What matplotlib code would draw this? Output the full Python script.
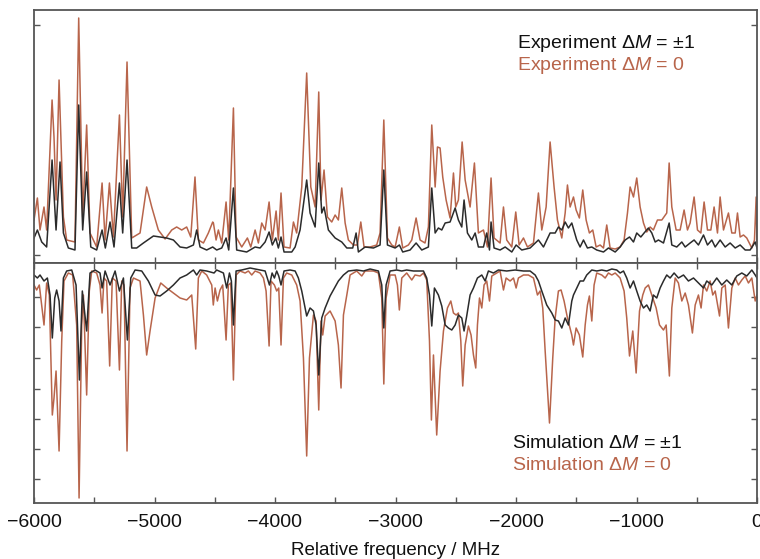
import matplotlib
matplotlib.use("Agg")
import matplotlib.pyplot as plt

plt.rcParams['font.family'] = ['Liberation Sans', 'DejaVu Sans']
plt.rcParams['mathtext.fontset'] = 'custom'
plt.rcParams['mathtext.rm'] = 'Liberation Sans'
plt.rcParams['mathtext.it'] = 'Liberation Sans:italic'

# ---------------- data (relative frequency in MHz, intensity in arb. units) ----------------
exp0_f = [-6000,-5972,-5950,-5917,-5895,-5850,-5834,-5817,-5792,-5756,-5729,-5660,-5629,-5596,-5563,-5535,-5480,-5435,-5410,-5374,
          -5341,-5291,-5264,-5228,-5189,-5120,-5065,-5023,-4968,-4912,-4857,-4816,-4774,-4733,-4699,-4664,-4636,-4594,-4553,-4517,
          -4511,-4489,-4470,-4442,-4406,-4384,-4345,-4323,-4276,-4229,-4201,-4165,-4138,-4110,-4082,-4049,-4022,-3991,-3972,-3950,
          -3925,-3875,-3847,-3820,-3778,-3737,-3703,-3667,-3637,-3618,-3593,-3565,-3529,-3501,-3474,-3446,-3418,-3391,-3349,-3316,
          -3288,-3261,-3211,-3156,-3128,-3097,-3067,-3031,-3003,-2968,-2940,-2893,-2865,-2829,-2796,-2755,-2727,-2699,-2671,-2652,
          -2630,-2608,-2580,-2547,-2519,-2500,-2478,-2447,-2422,-2381,-2345,-2312,-2270,-2237,-2207,-2182,-2132,-2104,-2077,-2035,
          -2002,-1974,-1938,-1905,-1855,-1814,-1786,-1750,-1717,-1684,-1656,-1620,-1592,-1573,-1551,-1523,-1501,-1474,-1446,-1418,
          -1391,-1363,-1335,-1302,-1274,-1247,-1219,-1177,-1136,-1103,-1075,-1053,-1025,-998,-970,-942,-915,-887,-860,-826,
          -790,-749,-729,-707,-671,-638,-605,-577,-555,-522,-494,-466,-439,-411,-383,-356,-328,-306,-278,-237,
          -209,-181,-162,-140,-112,-85,-43,-21,-7,0]
exp0_y = [43,65,33,56,33,163,126,63,183,46,23,21,245,46,138,30,16,80,23,80,
          26,148,46,201,25,30,76,56,33,24,33,36,33,36,26,86,23,20,30,41,
          40,23,33,20,61,23,155,26,16,25,16,33,20,40,33,61,23,52,23,70,
          16,15,41,30,76,190,76,56,171,63,93,46,41,48,43,75,40,23,18,18,
          41,16,16,18,30,143,25,18,16,36,15,18,23,45,23,20,36,138,76,116,
          115,86,63,45,90,56,63,121,83,56,100,30,33,16,85,25,20,56,23,16,
          51,18,25,16,20,70,33,56,121,76,43,25,50,78,56,66,53,45,73,43,
          30,33,16,18,15,38,15,14,16,23,50,76,66,85,56,40,31,36,33,43,
          43,50,100,56,33,33,53,33,40,66,33,30,61,33,33,56,30,66,33,50,
          30,30,50,26,28,25,15,23,66,20]

exp1_f = [-6000,-5972,-5936,-5895,-5850,-5817,-5784,-5756,-5715,-5660,-5629,-5596,-5563,-5529,-5480,-5435,-5408,-5369,-5336,-5291,
          -5264,-5228,-5189,-5148,-5092,-5009,-4954,-4899,-4843,-4788,-4733,-4677,-4650,-4622,-4567,-4517,-4484,-4442,-4406,-4384,
          -4345,-4318,-4235,-4165,-4124,-4082,-4049,-4022,-3994,-3972,-3950,-3925,-3861,-3833,-3792,-3737,-3709,-3667,-3637,-3612,
          -3593,-3557,-3501,-3446,-3404,-3355,-3327,-3308,-3252,-3183,-3128,-3097,-3067,-3003,-2968,-2940,-2879,-2829,-2782,-2727,
          -2699,-2671,-2644,-2616,-2588,-2547,-2505,-2478,-2450,-2431,-2403,-2367,-2339,-2312,-2270,-2243,-2220,-2207,-2182,-2132,
          -2090,-2035,-1999,-1952,-1883,-1814,-1772,-1717,-1675,-1648,-1620,-1592,-1565,-1537,-1496,-1468,-1440,-1407,-1371,-1330,
          -1274,-1233,-1177,-1136,-1094,-1058,-1025,-998,-964,-937,-901,-873,-845,-818,-776,-729,-707,-666,-624,-596,
          -555,-522,-486,-444,-411,-375,-347,-306,-264,-223,-181,-140,-98,-57,-15,0]
exp1_y = [25,33,21,16,103,33,101,30,15,13,158,33,91,16,13,33,15,41,16,80,
          30,103,15,15,20,27,26,25,23,16,15,18,33,16,13,16,13,15,25,13,
          75,13,11,16,15,21,31,18,25,15,26,11,11,16,33,83,50,36,100,50,
          56,33,25,21,15,15,30,11,16,15,18,93,18,15,18,11,13,20,13,16,
          75,30,35,33,40,41,55,43,36,63,30,23,30,16,16,30,13,41,15,13,
          16,11,18,13,15,23,16,30,30,36,33,41,35,40,23,16,23,15,16,13,
          11,15,11,16,23,26,21,30,26,30,35,30,21,23,20,40,18,16,21,16,
          20,23,18,28,18,23,16,23,16,20,15,18,13,13,21,15]

sim0_f = [-6000,-5978,-5956,-5917,-5895,-5873,-5848,-5834,-5817,-5792,-5770,-5751,-5715,-5679,-5646,-5626,-5604,-5590,-5563,-5541,
          -5521,-5480,-5452,-5435,-5419,-5397,-5372,-5350,-5319,-5291,-5272,-5253,-5228,-5203,-5175,-5120,-5092,-5065,-5037,-4995,
          -4948,-4899,-4843,-4788,-4733,-4691,-4658,-4636,-4608,-4567,-4525,-4512,-4497,-4478,-4456,-4434,-4406,-4387,-4367,-4345,
          -4323,-4290,-4248,-4221,-4193,-4165,-4124,-4096,-4074,-4049,-4033,-4005,-3986,-3969,-3950,-3930,-3903,-3861,-3820,-3792,
          -3764,-3737,-3714,-3681,-3659,-3637,-3618,-3604,-3584,-3543,-3501,-3474,-3452,-3432,-3404,-3377,-3322,-3280,-3252,-3183,
          -3142,-3114,-3097,-3078,-3045,-3003,-2984,-2968,-2948,-2907,-2865,-2838,-2796,-2768,-2741,-2718,-2702,-2685,-2658,-2630,
          -2602,-2569,-2541,-2519,-2497,-2478,-2458,-2442,-2422,-2395,-2373,-2353,-2334,-2320,-2303,-2284,-2265,-2243,-2220,-2201,
          -2160,-2132,-2104,-2082,-2049,-2021,-1999,-1980,-1938,-1897,-1855,-1822,-1800,-1778,-1758,-1722,-1695,-1675,-1648,-1626,
          -1601,-1573,-1537,-1523,-1501,-1474,-1446,-1426,-1407,-1391,-1371,-1352,-1330,-1288,-1260,-1233,-1205,-1177,-1136,-1103,
          -1081,-1058,-1031,-1003,-975,-948,-928,-901,-865,-837,-809,-776,-754,-727,-707,-679,-652,-624,-596,-569,
          -536,-513,-486,-464,-444,-417,-389,-367,-347,-311,-292,-264,-237,-209,-181,-154,-126,-98,-71,-43,
          -15,0]
sim0_y = [-22,-27,-22,-62,-20,-32,-152,-135,-108,-188,-78,-18,-10,-12,-62,-235,-62,-32,-132,-28,
          -8,-10,-22,-50,-15,-18,-103,-15,-18,-107,-18,-22,-188,-25,-15,-18,-52,-92,-68,-35,
          -20,-25,-30,-35,-37,-32,-86,-15,-8,-12,-22,-42,-25,-38,-27,-22,-77,-22,-20,-117,
          -12,-8,-10,-8,-12,-8,-10,-15,-28,-83,-18,-22,-28,-25,-82,-15,-10,-12,-22,-38,
          -95,-193,-95,-52,-58,-147,-58,-72,-53,-48,-58,-82,-125,-52,-32,-12,-8,-13,-8,-8,
          -10,-35,-121,-35,-12,-12,-22,-47,-15,-10,-17,-12,-13,-10,-17,-78,-157,-92,-172,-108,
          -68,-45,-38,-50,-52,-50,-78,-123,-82,-63,-72,-92,-105,-62,-35,-45,-22,-18,-38,-13,
          -10,-8,-27,-15,-18,-15,-25,-15,-12,-12,-15,-32,-28,-45,-88,-160,-95,-55,-28,-27,
          -38,-55,-72,-82,-65,-72,-94,-62,-42,-33,-58,-22,-10,-12,-15,-10,-12,-10,-15,-28,
          -55,-93,-68,-110,-48,-32,-25,-22,-35,-45,-62,-67,-62,-113,-45,-15,-20,-38,-30,-42,
          -70,-42,-32,-45,-22,-28,-18,-32,-28,-53,-25,-22,-65,-25,-15,-22,-17,-13,-20,-15,
          -38,-32]

sim1_f = [-6000,-5972,-5950,-5917,-5889,-5867,-5848,-5828,-5812,-5792,-5776,-5756,-5729,-5687,-5651,-5623,-5599,-5563,-5535,-5493,
          -5452,-5435,-5410,-5369,-5327,-5291,-5258,-5225,-5197,-5161,-5106,-5051,-4995,-4954,-4899,-4843,-4788,-4733,-4677,-4650,
          -4622,-4567,-4506,-4484,-4428,-4401,-4378,-4362,-4345,-4323,-4276,-4207,-4124,-4082,-4046,-4024,-4005,-3986,-3969,-3950,
          -3925,-3875,-3833,-3806,-3778,-3737,-3709,-3681,-3659,-3637,-3612,-3584,-3543,-3515,-3474,-3432,-3391,-3322,-3266,-3211,
          -3142,-3114,-3097,-3078,-3045,-2990,-2948,-2907,-2851,-2810,-2768,-2741,-2718,-2699,-2677,-2644,-2616,-2588,-2561,-2533,
          -2505,-2478,-2450,-2431,-2409,-2381,-2353,-2320,-2284,-2256,-2229,-2187,-2146,-2077,-2007,-1938,-1883,-1841,-1814,-1786,
          -1745,-1703,-1675,-1648,-1620,-1592,-1565,-1537,-1523,-1496,-1468,-1440,-1413,-1371,-1330,-1288,-1247,-1205,-1164,-1136,
          -1108,-1081,-1053,-1025,-998,-970,-942,-915,-887,-860,-832,-804,-776,-749,-721,-688,-652,-610,-569,-527,
          -486,-444,-417,-375,-334,-292,-251,-209,-168,-126,-85,-43,-15,0]
sim1_y = [-12,-15,-12,-18,-15,-32,-75,-35,-27,-38,-68,-15,-8,-7,-22,-117,-28,-68,-10,-7,
          -10,-25,-8,-22,-8,-28,-15,-77,-15,-7,-8,-18,-32,-33,-28,-22,-15,-12,-7,-12,
          -7,-8,-10,-7,-10,-25,-10,-18,-62,-8,-7,-5,-7,-8,-22,-10,-15,-8,-13,-22,
          -8,-7,-8,-15,-28,-53,-45,-48,-62,-112,-55,-45,-33,-27,-18,-12,-8,-7,-8,-6,
          -8,-22,-65,-22,-8,-7,-8,-7,-8,-8,-8,-15,-32,-63,-25,-32,-43,-62,-65,-67,
          -62,-52,-55,-68,-53,-32,-25,-15,-12,-18,-8,-10,-7,-8,-7,-8,-8,-12,-18,-28,
          -42,-50,-57,-58,-65,-55,-62,-38,-32,-25,-18,-18,-12,-7,-8,-7,-8,-6,-7,-10,
          -8,-15,-25,-18,-28,-38,-45,-42,-48,-32,-35,-25,-18,-12,-15,-10,-15,-12,-18,-15,
          -20,-25,-18,-22,-15,-22,-17,-22,-13,-10,-13,-7,-12,-15]

xticks = [-6000, -5000, -4000, -3000, -2000, -1000, 0]
xtick_labels = ['\u22126000', '\u22125000', '\u22124000', '\u22123000', '\u22122000', '\u22121000', '0']
labels_exp = [r'Experiment $\Delta\mathit{M}$ = \u00b11'.replace('\\u00b1', '\u00b1'),
              r'Experiment $\Delta\mathit{M}$ = 0']
labels_sim = [r'Simulation $\Delta\mathit{M}$ = \u00b11'.replace('\\u00b1', '\u00b1'),
              r'Simulation $\Delta\mathit{M}$ = 0']

# ---------------- styling ----------------
C_BLACK = '#2b2b2b'
C_BROWN = '#b8654b'
FRAME = '#555555'
W, H = 760, 559

fig = plt.figure(figsize=(W / 100, H / 100), dpi=100)
left, right = 34, 757
top, mid, bottom = 10, 263, 503
ax1 = fig.add_axes([left / W, 1 - mid / H, (right - left) / W, (mid - top) / H])
ax2 = fig.add_axes([left / W, 1 - bottom / H, (right - left) / W, (bottom - mid) / H])

ax1.plot(exp0_f, exp0_y, color=C_BROWN, lw=1.1, solid_joinstyle='round')
ax1.plot(exp1_f, exp1_y, color=C_BLACK, lw=1.1, solid_joinstyle='round')
ax2.plot(sim0_f, sim0_y, color=C_BROWN, lw=1.1, solid_joinstyle='round')
ax2.plot(sim1_f, sim1_y, color=C_BLACK, lw=1.1, solid_joinstyle='round')

ax1.set_xlim(-6000, 0)
ax2.set_xlim(-6000, 0)
ax1.set_ylim(0, mid - top)
ax2.set_ylim(-(bottom - mid), 0)

for ax in (ax1, ax2):
    for s in ax.spines.values():
        s.set_color(FRAME)
        s.set_linewidth(1.3)
    ax.set_xticks(xticks)
    ax.set_xticks(list(range(-5500, 0, 1000)), minor=True)
    ax.tick_params(which='both', direction='in', length=4, width=1, color=FRAME,
                   left=True, right=True)

ax1.tick_params(which='both', top=False, bottom=True, labelbottom=False, labelleft=False)
ax1.set_yticks([8, 238])
ax2.tick_params(which='both', top=True, bottom=True, labelleft=False)
ax2.set_yticks([-34, -64, -95, -126, -156, -186, -216])
ax2.set_xticklabels(xtick_labels, fontsize=14)
ax2.tick_params(axis='x', which='major', pad=8, labelcolor='#111111')
ax2.set_xlabel('Relative frequency / MHz', fontsize=13.5, color='#111111', labelpad=8)

fig.text(517 / W, 1 - 44 / H, labels_exp[0], color='#111111', fontsize=14, va='center', ha='left')
fig.text(517 / W, 1 - 65 / H, labels_exp[1], color=C_BROWN, fontsize=14, va='center', ha='left')
fig.text(512 / W, 1 - 443 / H, labels_sim[0], color='#111111', fontsize=14, va='center', ha='left')
fig.text(512 / W, 1 - 465 / H, labels_sim[1], color=C_BROWN, fontsize=14, va='center', ha='left')

fig.savefig('out.png', dpi=100)
